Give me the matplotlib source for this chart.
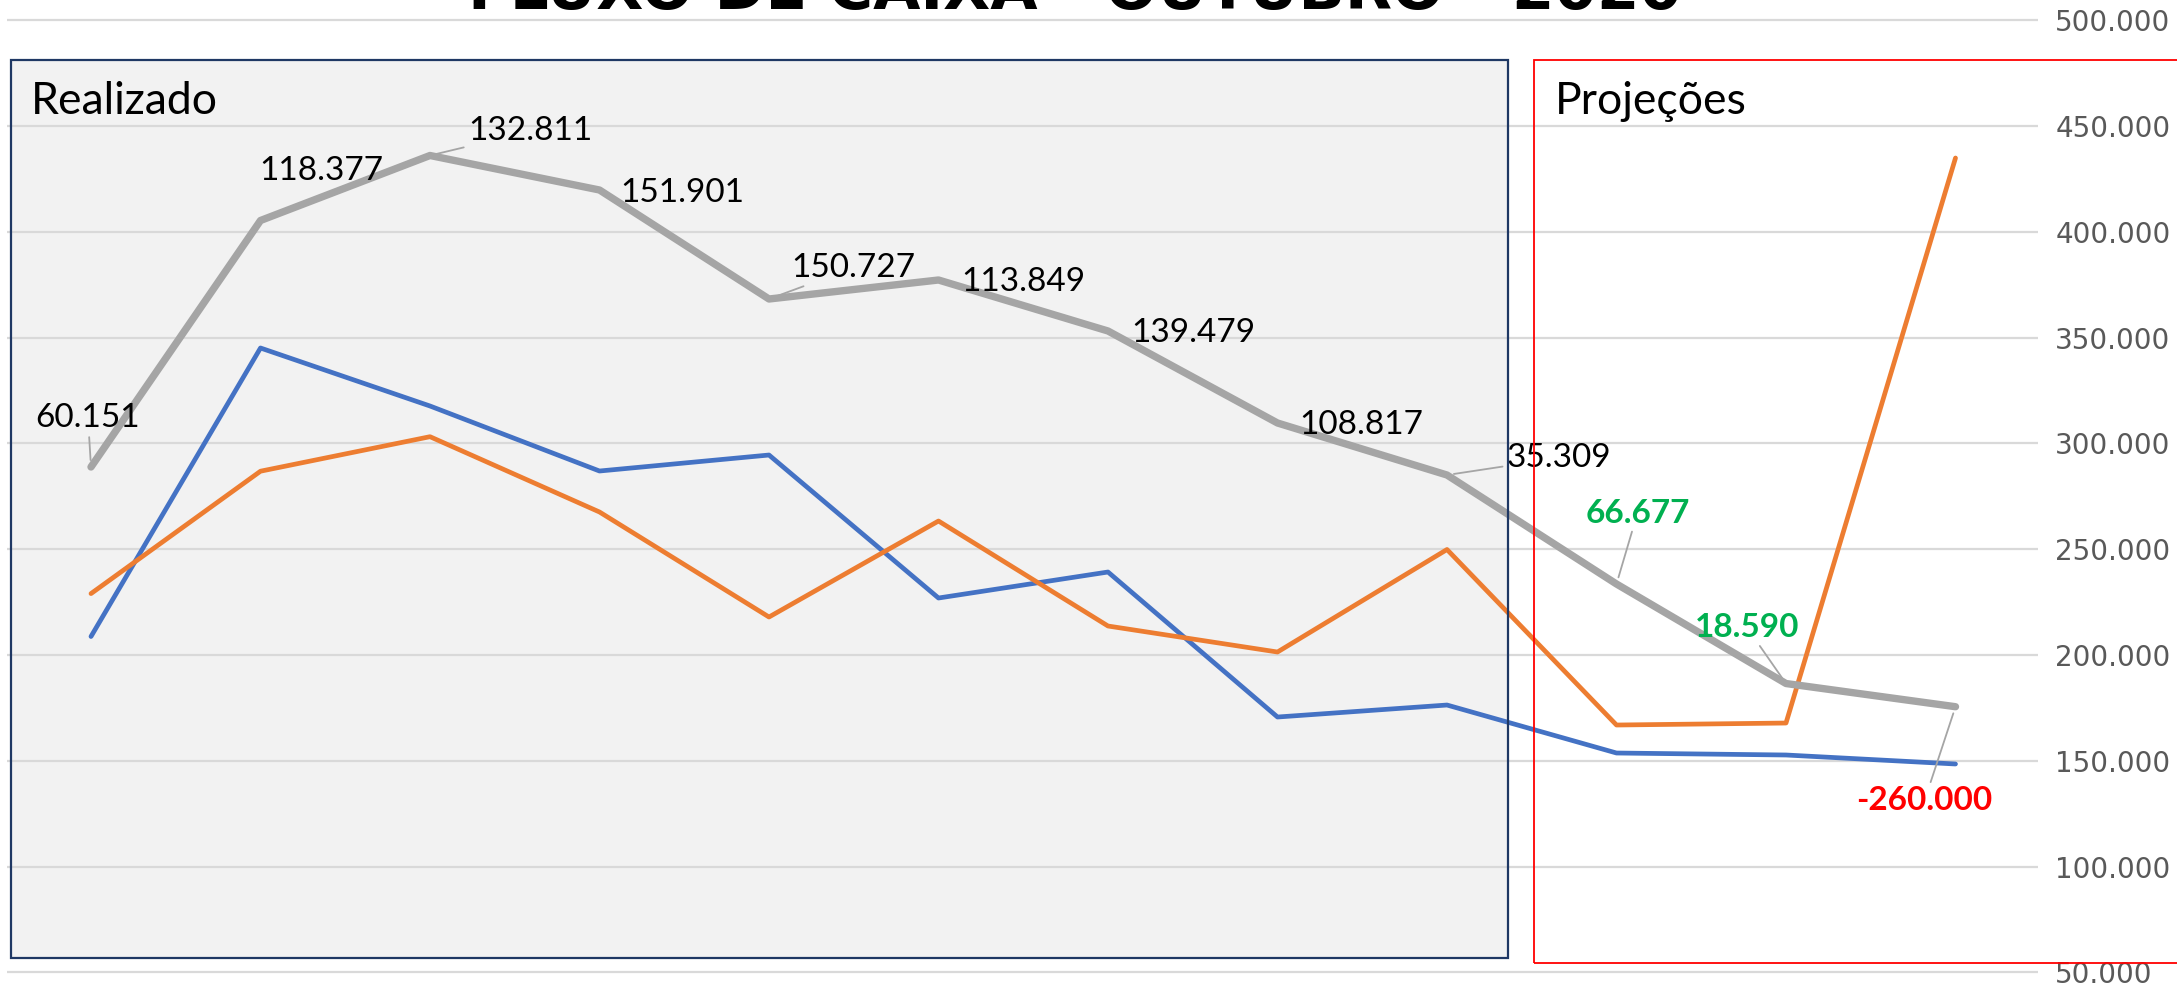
import matplotlib.pyplot as plt
import matplotlib.patches as mpatches
from matplotlib.ticker import FixedLocator, FuncFormatter

W, H, DPI = 2177, 984, 100

# 12 months: 9 realized + 3 projected
saldo = [288850, 405340, 436060, 419750, 368240, 377220,
         353120, 309640, 285060, 233550, 186520, 175560]
entradas = [208740, 345085, 317675, 286950, 294510, 226930,
            239220, 170690, 176360, 153680, 152740, 148490]
saidas = [229020, 286860, 303170, 267580, 217950, 263320,
          213700, 201410, 249850, 166910, 167850, 434880]
saldo_labels = ["60.151", "118.377", "132.811", "151.901", "150.727", "113.849",
                "139.479", "108.817", "35.309", "66.677", "18.590", "-260.000"]
y_ticks = [50000, 100000, 150000, 200000, 250000, 300000,
           350000, 400000, 450000, 500000]
n_realizado = 9

# label offsets in pixels (dx, dy up) and whether a leader line is drawn
label_offsets = [(-3, 49), (61, 50), (100, 24), (83, -3), (84, 31), (85, -2),
                 (85, -2), (84, -2), (112, 17), (21, 71), (-39, 56), (-31, -94)]
leaders = [True, False, True, False, True, False,
           False, False, True, True, True, True]

BLUE = "#4472C4"
ORANGE = "#ED7D31"
GRAY = "#A5A5A5"
GREEN = "#00B050"
RED = "#FF0000"


def px_x(p):
    return p / W


def px_y(p):
    return 1 - p / H


fig = plt.figure(figsize=(W / DPI, H / DPI), dpi=DPI, facecolor="white")

# background box for the realized months
fig.patches.append(mpatches.Rectangle(
    (px_x(11), px_y(958)), px_x(1508 - 11), (958 - 60) / H,
    transform=fig.transFigure, facecolor="#F2F2F2", edgecolor="none", zorder=-2))

ax = fig.add_axes([px_x(7), 0, (2038 - 7) / W, 1])
ax.patch.set_alpha(0)
x0_px, step_px = 91, 169.5
ax.set_xlim((7 - x0_px) / step_px, (2038 - x0_px) / step_px)
ymax = 450000 + 126 / 105.8 * 50000
ymin = 450000 - (H - 126) / 105.8 * 50000
ax.set_ylim(ymin, ymax)

xs = list(range(len(saldo)))
ax.plot(xs, entradas, color=BLUE, lw=3.4, solid_capstyle="round", solid_joinstyle="round", zorder=3)
ax.plot(xs, saidas, color=ORANGE, lw=3.4, solid_capstyle="round", solid_joinstyle="round", zorder=3)
ax.plot(xs, saldo, color=GRAY, lw=5.3, solid_capstyle="round", solid_joinstyle="round", zorder=4)

for i, (txt, (dx, dy), lead) in enumerate(zip(saldo_labels, label_offsets, leaders)):
    if i < n_realizado:
        color, weight = "black", "normal"
    elif txt.startswith("-"):
        color, weight = RED, "bold"
    else:
        color, weight = GREEN, "bold"
    kw = {}
    if lead:
        kw["arrowprops"] = dict(arrowstyle="-", color=GRAY, lw=1.3, shrinkA=1, shrinkB=5)
    ax.annotate(txt, (xs[i], saldo[i]), xytext=(dx, dy), textcoords="offset pixels",
                ha="center", va="center", fontsize=24, color=color, fontweight=weight,
                family=["Lato", "DejaVu Sans"], zorder=6, **kw)

ax.yaxis.set_major_locator(FixedLocator(y_ticks))
ax.yaxis.set_major_formatter(FuncFormatter(lambda v, _: f"{v:,.0f}".replace(",", ".")))
ax.yaxis.tick_right()
ax.tick_params(axis="y", length=0, pad=12.5, labelsize=20, labelcolor="#595959")
ax.set_xticks([])
ax.grid(axis="y", color="#D9D9D9", lw=1.6, zorder=1)
for s in ax.spines.values():
    s.set_visible(False)

# box outlines on top
fig.patches.append(mpatches.Rectangle(
    (px_x(11), px_y(958)), px_x(1508 - 11), (958 - 60) / H,
    transform=fig.transFigure, facecolor="none", edgecolor="#1F3864", lw=1.6, zorder=5))
fig.patches.append(mpatches.Rectangle(
    (px_x(1534), px_y(963)), px_x(2200 - 1534), (963 - 60) / H,
    transform=fig.transFigure, facecolor="none", edgecolor=RED, lw=1.3, zorder=5))

fig.text(px_x(31), px_y(101), "Realizado", fontsize=32, va="center", ha="left",
         family=["Lato", "DejaVu Sans"])
fig.text(px_x(1555), px_y(101), "Projeções", fontsize=32, va="center", ha="left",
         family=["Lato", "DejaVu Sans"])
fig.text(px_x(1075), px_y(9), "FLUXO DE CAIXA - OUTUBRO - 2020", fontsize=44,
         fontweight="bold", ha="center", va="baseline")

fig.savefig("out.png", dpi=DPI, facecolor="white")
